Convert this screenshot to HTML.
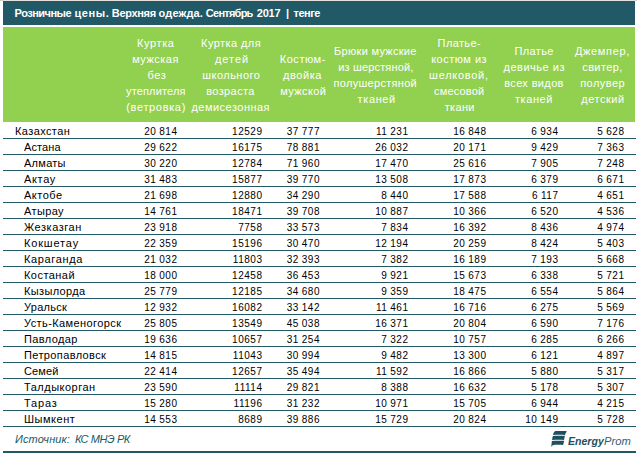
<!DOCTYPE html>
<html lang="ru"><head><meta charset="utf-8"><title>Розничные цены</title>
<style>
html,body{margin:0;padding:0;background:#fff;}
body{width:637px;height:453px;position:relative;overflow:hidden;font-family:"Liberation Sans",sans-serif;}
.abs{position:absolute;white-space:nowrap;}
.title{left:3px;top:1px;width:632px;height:24px;background:#215967;}
.title span{position:absolute;left:11.4px;top:0;line-height:24px;font-size:11px;font-weight:bold;color:#fff;letter-spacing:-0.127px;white-space:nowrap;}
.green{left:3px;top:27px;width:632px;height:95px;background:#92d050;}
.h{position:absolute;width:120px;text-align:center;font-size:11px;line-height:16px;color:#ffffff;letter-spacing:0.1px;white-space:nowrap;}
.hl{width:auto;text-align:left;}
.ln{position:absolute;left:3px;width:633px;height:1px;background:#215967;}
.lab{position:absolute;font-size:11px;line-height:16px;color:#000;letter-spacing:0.1px;white-space:nowrap;}
.n{position:absolute;width:60px;text-align:right;font-size:10px;line-height:16px;color:#000;letter-spacing:0.52px;word-spacing:-0.4px;white-space:nowrap;}
.src{left:15px;top:427px;line-height:24px;font-size:11px;font-style:italic;color:#215967;letter-spacing:-0.1px;}
.bot{left:3px;top:451px;width:633px;height:2px;background:#215967;}
.logo{left:551px;top:430px;}
.lt{position:absolute;font-size:11.5px;line-height:16px;font-style:italic;color:#1f5060;white-space:nowrap;transform-origin:0 0;}
.lt b{font-weight:bold;}
</style></head><body>
<div class="abs" style="left:0;top:0;width:637px;height:1px;background:#cfcfcf"></div><div class="abs" style="left:3px;top:0;width:632px;height:1px;background:#e7e1de"></div>
<div class="abs title"><span style="left:11.59px;letter-spacing:-0.506px">Розничные</span><span style="left:71.51px;letter-spacing:0.606px">цены.</span><span style="left:108.85px;letter-spacing:-0.333px">Верхняя</span><span style="left:155.62px;letter-spacing:0.125px">одежда.</span><span style="left:202.87px;letter-spacing:-0.752px">Сентябрь</span><span style="left:253.77px;letter-spacing:-0.245px">2017</span><span style="left:283.10px;letter-spacing:0.000px">|</span><span style="left:290.48px;letter-spacing:-0.457px">тенге</span></div>
<div class="abs green"></div>

<div class="h hl" style="left:136.99px;top:35px;letter-spacing:0.62px">Куртка</div>
<div class="h hl" style="left:132.16px;top:51px;letter-spacing:0.49px">мужская</div>
<div class="h hl" style="left:147.51px;top:67px;letter-spacing:0.64px">без</div>
<div class="h hl" style="left:126.04px;top:83px;letter-spacing:0.15px">утеплителя</div>
<div class="h hl" style="left:126.27px;top:99px;letter-spacing:0.66px">(ветровка)</div>
<div class="h hl" style="left:201.10px;top:35px;letter-spacing:0.42px">Куртка для</div>
<div class="h hl" style="left:214.98px;top:51px;letter-spacing:0.98px">детей</div>
<div class="h hl" style="left:202.20px;top:67px;letter-spacing:0.48px">школьного</div>
<div class="h hl" style="left:206.15px;top:83px;letter-spacing:0.40px">возраста</div>
<div class="h hl" style="left:191.41px;top:99px;letter-spacing:0.48px">демисезонная</div>
<div class="h hl" style="left:279.80px;top:51px;letter-spacing:0.52px">Костюм-</div>
<div class="h hl" style="left:282.97px;top:67px;letter-spacing:0.59px">двойка</div>
<div class="h hl" style="left:280.25px;top:83px;letter-spacing:0.40px">мужской</div>
<div class="h hl" style="left:334.10px;top:43px;letter-spacing:0.29px">Брюки мужские</div>
<div class="h hl" style="left:338.23px;top:59px;letter-spacing:0.16px">из шерстяной,</div>
<div class="h hl" style="left:333.60px;top:75px;letter-spacing:0.29px">полушерстяной</div>
<div class="h hl" style="left:357.57px;top:91px;letter-spacing:0.62px">тканей</div>
<div class="h hl" style="left:437.60px;top:35px;letter-spacing:0.38px">Платье-</div>
<div class="h hl" style="left:431.19px;top:51px;letter-spacing:0.49px">костюм из</div>
<div class="h hl" style="left:429.11px;top:67px;letter-spacing:0.72px">шелковой,</div>
<div class="h hl" style="left:433.98px;top:83px;letter-spacing:0.19px">смесовой</div>
<div class="h hl" style="left:444.77px;top:99px;letter-spacing:0.31px">ткани</div>
<div class="h hl" style="left:514.53px;top:43px;letter-spacing:0.36px">Платье</div>
<div class="h hl" style="left:503.54px;top:59px;letter-spacing:0.51px">девичье из</div>
<div class="h hl" style="left:504.19px;top:75px;letter-spacing:0.36px">всех видов</div>
<div class="h hl" style="left:515.02px;top:91px;letter-spacing:0.56px">тканей</div>
<div class="h hl" style="left:574.91px;top:43px;letter-spacing:0.68px">Джемпер,</div>
<div class="h hl" style="left:582.28px;top:59px;letter-spacing:0.38px">свитер,</div>
<div class="h hl" style="left:580.20px;top:75px;letter-spacing:0.46px">полувер</div>
<div class="h hl" style="left:581.33px;top:91px;letter-spacing:0.52px">детский</div>
<div class="lab" style="left:15px;top:123px;letter-spacing:0.40px">Казахстан</div>
<div class="n" style="left:117.5px;top:124px">20 814</div>
<div class="n" style="left:202.5px;top:124px">12529</div>
<div class="n" style="left:260.0px;top:124px">37 777</div>
<div class="n" style="left:348.5px;top:124px">11 231</div>
<div class="n" style="left:426.5px;top:124px">16 848</div>
<div class="n" style="left:498.5px;top:124px">6 934</div>
<div class="n" style="left:564.5px;top:124px">5 628</div>
<div class="ln" style="top:138px"></div>
<div class="lab" style="left:24px;top:139px;letter-spacing:0.12px">Астана</div>
<div class="n" style="left:117.5px;top:140px">29 622</div>
<div class="n" style="left:202.5px;top:140px">16175</div>
<div class="n" style="left:260.0px;top:140px">78 881</div>
<div class="n" style="left:348.5px;top:140px">26 032</div>
<div class="n" style="left:426.5px;top:140px">20 171</div>
<div class="n" style="left:498.5px;top:140px">9 429</div>
<div class="n" style="left:564.5px;top:140px">7 363</div>
<div class="ln" style="top:154px"></div>
<div class="lab" style="left:24px;top:155px;letter-spacing:0.27px">Алматы</div>
<div class="n" style="left:117.5px;top:156px">30 220</div>
<div class="n" style="left:202.5px;top:156px">12784</div>
<div class="n" style="left:260.0px;top:156px">71 960</div>
<div class="n" style="left:348.5px;top:156px">17 470</div>
<div class="n" style="left:426.5px;top:156px">25 616</div>
<div class="n" style="left:498.5px;top:156px">7 905</div>
<div class="n" style="left:564.5px;top:156px">7 248</div>
<div class="ln" style="top:170px"></div>
<div class="lab" style="left:24px;top:171px;letter-spacing:0.67px">Актау</div>
<div class="n" style="left:117.5px;top:172px">31 483</div>
<div class="n" style="left:202.5px;top:172px">15877</div>
<div class="n" style="left:260.0px;top:172px">39 770</div>
<div class="n" style="left:348.5px;top:172px">13 508</div>
<div class="n" style="left:426.5px;top:172px">17 873</div>
<div class="n" style="left:498.5px;top:172px">6 379</div>
<div class="n" style="left:564.5px;top:172px">6 671</div>
<div class="ln" style="top:186px"></div>
<div class="lab" style="left:24px;top:187px;letter-spacing:0.48px">Актобе</div>
<div class="n" style="left:117.5px;top:188px">21 698</div>
<div class="n" style="left:202.5px;top:188px">12880</div>
<div class="n" style="left:260.0px;top:188px">34 290</div>
<div class="n" style="left:348.5px;top:188px">8 440</div>
<div class="n" style="left:426.5px;top:188px">17 588</div>
<div class="n" style="left:498.5px;top:188px">6 117</div>
<div class="n" style="left:564.5px;top:188px">4 651</div>
<div class="ln" style="top:202px"></div>
<div class="lab" style="left:24px;top:203px;letter-spacing:0.39px">Атырау</div>
<div class="n" style="left:117.5px;top:204px">14 761</div>
<div class="n" style="left:202.5px;top:204px">18471</div>
<div class="n" style="left:260.0px;top:204px">39 708</div>
<div class="n" style="left:348.5px;top:204px">10 887</div>
<div class="n" style="left:426.5px;top:204px">10 366</div>
<div class="n" style="left:498.5px;top:204px">6 520</div>
<div class="n" style="left:564.5px;top:204px">4 536</div>
<div class="ln" style="top:218px"></div>
<div class="lab" style="left:24px;top:219px;letter-spacing:0.54px">Жезказган</div>
<div class="n" style="left:117.5px;top:220px">23 918</div>
<div class="n" style="left:202.5px;top:220px">7758</div>
<div class="n" style="left:260.0px;top:220px">33 573</div>
<div class="n" style="left:348.5px;top:220px">7 834</div>
<div class="n" style="left:426.5px;top:220px">16 392</div>
<div class="n" style="left:498.5px;top:220px">8 436</div>
<div class="n" style="left:564.5px;top:220px">4 974</div>
<div class="ln" style="top:234px"></div>
<div class="lab" style="left:24px;top:235px;letter-spacing:0.83px">Кокшетау</div>
<div class="n" style="left:117.5px;top:236px">22 359</div>
<div class="n" style="left:202.5px;top:236px">15196</div>
<div class="n" style="left:260.0px;top:236px">30 470</div>
<div class="n" style="left:348.5px;top:236px">12 194</div>
<div class="n" style="left:426.5px;top:236px">20 259</div>
<div class="n" style="left:498.5px;top:236px">8 424</div>
<div class="n" style="left:564.5px;top:236px">5 403</div>
<div class="ln" style="top:250px"></div>
<div class="lab" style="left:24px;top:251px;letter-spacing:0.65px">Караганда</div>
<div class="n" style="left:117.5px;top:252px">21 032</div>
<div class="n" style="left:202.5px;top:252px">11803</div>
<div class="n" style="left:260.0px;top:252px">32 393</div>
<div class="n" style="left:348.5px;top:252px">7 382</div>
<div class="n" style="left:426.5px;top:252px">16 189</div>
<div class="n" style="left:498.5px;top:252px">7 193</div>
<div class="n" style="left:564.5px;top:252px">5 668</div>
<div class="ln" style="top:266px"></div>
<div class="lab" style="left:24px;top:267px;letter-spacing:0.45px">Костанай</div>
<div class="n" style="left:117.5px;top:268px">18 000</div>
<div class="n" style="left:202.5px;top:268px">12458</div>
<div class="n" style="left:260.0px;top:268px">36 453</div>
<div class="n" style="left:348.5px;top:268px">9 921</div>
<div class="n" style="left:426.5px;top:268px">15 673</div>
<div class="n" style="left:498.5px;top:268px">6 338</div>
<div class="n" style="left:564.5px;top:268px">5 721</div>
<div class="ln" style="top:282px"></div>
<div class="lab" style="left:24px;top:283px;letter-spacing:0.36px">Кызылорда</div>
<div class="n" style="left:117.5px;top:284px">25 779</div>
<div class="n" style="left:202.5px;top:284px">12185</div>
<div class="n" style="left:260.0px;top:284px">34 680</div>
<div class="n" style="left:348.5px;top:284px">9 359</div>
<div class="n" style="left:426.5px;top:284px">18 475</div>
<div class="n" style="left:498.5px;top:284px">6 554</div>
<div class="n" style="left:564.5px;top:284px">5 864</div>
<div class="ln" style="top:298px"></div>
<div class="lab" style="left:24px;top:299px;letter-spacing:0.26px">Уральск</div>
<div class="n" style="left:117.5px;top:300px">12 932</div>
<div class="n" style="left:202.5px;top:300px">16082</div>
<div class="n" style="left:260.0px;top:300px">33 142</div>
<div class="n" style="left:348.5px;top:300px">11 461</div>
<div class="n" style="left:426.5px;top:300px">16 716</div>
<div class="n" style="left:498.5px;top:300px">6 275</div>
<div class="n" style="left:564.5px;top:300px">5 569</div>
<div class="ln" style="top:314px"></div>
<div class="lab" style="left:24px;top:315px;letter-spacing:0.41px">Усть-Каменогорск</div>
<div class="n" style="left:117.5px;top:316px">25 805</div>
<div class="n" style="left:202.5px;top:316px">13549</div>
<div class="n" style="left:260.0px;top:316px">45 038</div>
<div class="n" style="left:348.5px;top:316px">16 371</div>
<div class="n" style="left:426.5px;top:316px">20 804</div>
<div class="n" style="left:498.5px;top:316px">6 590</div>
<div class="n" style="left:564.5px;top:316px">7 176</div>
<div class="ln" style="top:330px"></div>
<div class="lab" style="left:24px;top:331px;letter-spacing:0.38px">Павлодар</div>
<div class="n" style="left:117.5px;top:332px">19 636</div>
<div class="n" style="left:202.5px;top:332px">10657</div>
<div class="n" style="left:260.0px;top:332px">31 254</div>
<div class="n" style="left:348.5px;top:332px">7 322</div>
<div class="n" style="left:426.5px;top:332px">10 757</div>
<div class="n" style="left:498.5px;top:332px">6 285</div>
<div class="n" style="left:564.5px;top:332px">6 266</div>
<div class="ln" style="top:346px"></div>
<div class="lab" style="left:24px;top:347px;letter-spacing:0.38px">Петропавловск</div>
<div class="n" style="left:117.5px;top:348px">14 815</div>
<div class="n" style="left:202.5px;top:348px">11043</div>
<div class="n" style="left:260.0px;top:348px">30 994</div>
<div class="n" style="left:348.5px;top:348px">9 482</div>
<div class="n" style="left:426.5px;top:348px">13 300</div>
<div class="n" style="left:498.5px;top:348px">6 121</div>
<div class="n" style="left:564.5px;top:348px">4 897</div>
<div class="ln" style="top:362px"></div>
<div class="lab" style="left:24px;top:363px;letter-spacing:0.14px">Семей</div>
<div class="n" style="left:117.5px;top:364px">22 414</div>
<div class="n" style="left:202.5px;top:364px">12657</div>
<div class="n" style="left:260.0px;top:364px">35 494</div>
<div class="n" style="left:348.5px;top:364px">11 592</div>
<div class="n" style="left:426.5px;top:364px">16 866</div>
<div class="n" style="left:498.5px;top:364px">5 880</div>
<div class="n" style="left:564.5px;top:364px">5 317</div>
<div class="ln" style="top:378px"></div>
<div class="lab" style="left:24px;top:379px;letter-spacing:0.49px">Талдыкорган</div>
<div class="n" style="left:117.5px;top:380px">23 590</div>
<div class="n" style="left:202.5px;top:380px">11114</div>
<div class="n" style="left:260.0px;top:380px">29 821</div>
<div class="n" style="left:348.5px;top:380px">8 388</div>
<div class="n" style="left:426.5px;top:380px">16 632</div>
<div class="n" style="left:498.5px;top:380px">5 178</div>
<div class="n" style="left:564.5px;top:380px">5 307</div>
<div class="ln" style="top:394px"></div>
<div class="lab" style="left:24px;top:395px;letter-spacing:0.81px">Тараз</div>
<div class="n" style="left:117.5px;top:396px">15 280</div>
<div class="n" style="left:202.5px;top:396px">11196</div>
<div class="n" style="left:260.0px;top:396px">31 232</div>
<div class="n" style="left:348.5px;top:396px">10 971</div>
<div class="n" style="left:426.5px;top:396px">15 705</div>
<div class="n" style="left:498.5px;top:396px">6 944</div>
<div class="n" style="left:564.5px;top:396px">4 215</div>
<div class="ln" style="top:410px"></div>
<div class="lab" style="left:24px;top:411px;letter-spacing:0.51px">Шымкент</div>
<div class="n" style="left:117.5px;top:412px">14 553</div>
<div class="n" style="left:202.5px;top:412px">8689</div>
<div class="n" style="left:260.0px;top:412px">39 886</div>
<div class="n" style="left:348.5px;top:412px">15 729</div>
<div class="n" style="left:426.5px;top:412px">20 824</div>
<div class="n" style="left:498.5px;top:412px">10 149</div>
<div class="n" style="left:564.5px;top:412px">5 728</div>
<div class="ln" style="top:426px"></div>
<div class="abs src"><span style="letter-spacing:0.08px">Источник:</span><span style="letter-spacing:-0.9px;margin-left:3.0px"> КС</span><span style="letter-spacing:-0.4px;margin-left:0.5px"> МНЭ РК</span></div>
<svg class="abs logo" width="18" height="18" viewBox="0 0 18 18"><g fill="#1f5060">
<path d="M4.3 1.0 L15.8 1.0 L13.9 4.9 C10 4.75 6 4.7 2.0 5.0 C2.3 3.4 3.0 1.7 4.3 1.0 Z"/>
<path d="M1.8 5.95 C6 5.65 10 5.7 13.9 5.85 L13.0 9.9 C9 9.7 5 9.7 1.0 10.0 Z"/>
<path d="M0.9 10.95 C5 10.65 9 10.65 13.2 10.85 L12.1 14.9 C8.5 14.7 5 14.6 2.3 15.1 C1.5 15.5 0.8 16.2 0.2 16.9 Z"/>
</g></svg>
<div class="lt" style="left:568.2px;top:433px;font-weight:bold;transform:scaleX(0.918)">Energy</div>
<div class="lt" style="left:603.9px;top:433px;color:#36606f;transform:scaleX(0.976)">Prom</div>
<div class="abs bot"></div>
</body></html>
